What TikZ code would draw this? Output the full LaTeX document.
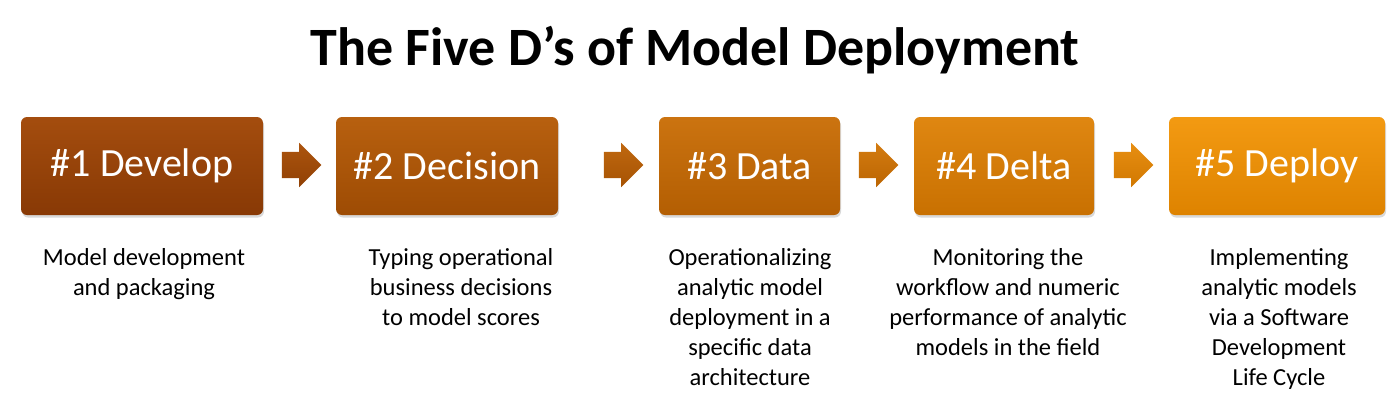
\documentclass[tikz,border=0pt]{standalone}
\usepackage{fontspec}
\setmainfont{Carlito}
\usetikzlibrary{shapes.arrows,shadows}

\definecolor{topA}{HTML}{A44D0E}
\definecolor{botA}{HTML}{883905}
\definecolor{topE}{HTML}{F39A12}
\definecolor{botE}{HTML}{DE8300}

\begin{document}
\begin{tikzpicture}[
x=1pt,y=1pt,
box/.style={
rounded corners=6pt,
minimum height=98pt,
inner sep=0pt,
text=white,
font=\fontsize{40}{40}\selectfont,
drop shadow={opacity=0.3,shadow xshift=1pt,shadow yshift=-2.5pt}
},
blockarrow/.style={
single arrow,
single arrow head extend=9pt,
minimum height=38pt,
inner sep=13pt,
text width=0pt
},
desc/.style={
align=center,
font=\fontsize{24.5}{30}\selectfont
}
]

\useasboundingbox (0,0) rectangle (1392,-408);

\node (T) at (695,-50) {\fontsize{54}{54}\selectfont\bfseries The Five D’s of Model Deployment};

\node[box, minimum width=242pt, top color=topA, bottom color=botA] (D1) at (142,-166) {\#1 Develop};
\node[box, minimum width=222pt, top color=topA!75!topE, bottom color=botA!75!botE] (D2) at (447,-166) {\#2 Decision};
\node[box, minimum width=181pt, top color=topA!50!topE, bottom color=botA!50!botE] (D3) at (749.5,-166) {\#3 Data};
\node[box, minimum width=180pt, top color=topA!25!topE, bottom color=botA!25!botE] (D4) at (1004,-166) {\#4 Delta};
\node[box, minimum width=216pt, top color=topE, bottom color=botE] (D5) at (1277,-166) {\#5 Deploy};

\node[blockarrow, top color=topA!90!topE, bottom color=botA!90!botE] (A1) at (295,-165) {};
\node[blockarrow, top color=topA!65!topE, bottom color=botA!65!botE] (A2) at (617,-165) {};
\node[blockarrow, top color=topA!40!topE, bottom color=botA!40!botE] (A3) at (872,-165) {};
\node[blockarrow, top color=topA!15!topE, bottom color=botA!15!botE] (A4) at (1127,-165) {};

\node[desc, anchor=north] (P1) at (144,-245) {Model development\\and packaging};
\node[desc, anchor=north] (P2) at (461,-245) {Typing operational\\business decisions\\to model scores};
\node[desc, anchor=north] (P3) at (750,-245) {Operationalizing\\analytic model\\deployment in a\\specific data\\architecture};
\node[desc, anchor=north] (P4) at (1008,-245) {Monitoring the\\workflow and numeric\\performance of analytic\\models in the field};
\node[desc, anchor=north] (P5) at (1279,-245) {Implementing\\analytic models\\via a Software\\Development\\Life Cycle};

\end{tikzpicture}
\end{document}
